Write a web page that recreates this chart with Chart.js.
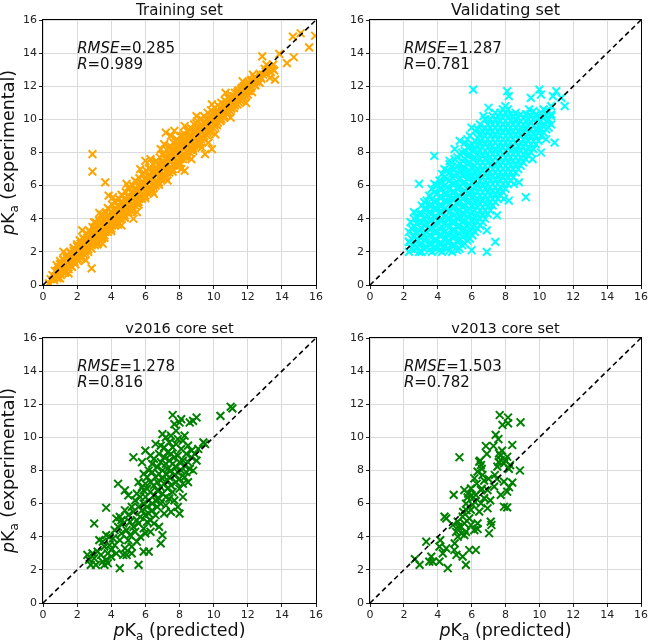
<!DOCTYPE html>
<html><head><meta charset="utf-8">
<script src="https://cdn.jsdelivr.net/npm/chart.js@4"></script>
<style>
html,body{margin:0;padding:0;background:#fff;}
#wrap{position:relative;width:650px;height:643px;overflow:hidden;background:#fff;}
canvas{position:absolute;}
</style></head><body>
<div id="wrap">
<canvas id="c0" width="330" height="305" style="left:0;top:0"></canvas>
<canvas id="c1" width="320" height="305" style="left:330px;top:0"></canvas>
<canvas id="c2" width="330" height="338" style="left:0;top:305px"></canvas>
<canvas id="c3" width="320" height="338" style="left:330px;top:305px"></canvas>
</div>
<script>
const panelTitles = ['Training set', 'Validating set', 'v2016 core set', 'v2013 core set'];
const rmseValues = ['0.285', '1.287', '1.278', '1.503'];
const rValues = ['0.989', '0.781', '0.816', '0.782'];
const tickValues = [0, 2, 4, 6, 8, 10, 12, 14, 16];
const diagonal = [[0, 0], [16, 16]];
const yAxisLabel = ' (experimental)';
const xAxisLabel = ' (predicted)';

const trainingBand = [
[0.45,0.35],[0.55,0.6],[0.65,0.3],[0.7,0.85],[0.8,0.55],[0.9,1.05],[0.95,0.7],[1.05,1.3],[1.1,0.85],[1.2,1.5],[1.25,1.05],[1.3,0.75],[1.4,1.7],[1.45,1.25],[1.5,0.95],[1.6,1.95],[1.65,1.45],[1.7,1.1],[1.8,2.2],[1.85,1.6],[1.9,1.25],[2.0,2.45],[2.0,1.9],[2.05,1.45],[2.15,2.7],[2.2,2.1],[2.25,1.6],[2.35,2.85],[2.4,2.35],[2.45,1.8],[2.55,3.1],[2.6,2.55],[2.65,2.0],[2.7,3.3],[2.8,2.75],[2.85,2.2],[2.9,3.5],[3.0,2.95],[3.05,2.4],[3.1,3.75],[3.2,3.15],[3.25,2.55],[3.3,3.9],[3.4,3.35],[3.45,2.8],[3.5,4.2],[3.55,3.6],[3.6,3.0],[3.7,4.4],[3.75,3.8],[3.8,3.2],[3.85,4.6],[3.95,4.0],[4.0,3.4],[4.05,4.85],[4.15,4.2],[4.2,3.6],[4.25,5.0],[4.35,4.45],[4.4,3.8],[4.45,5.2],[4.55,4.6],[4.6,4.0],[4.65,5.4],[4.75,4.85],[4.8,4.2],[4.85,5.6],[4.95,5.05],[5.0,4.4],[5.05,5.8],[5.15,5.25],[5.2,4.6],[5.25,6.0],[5.35,5.45],[5.4,4.8],[5.45,6.25],[5.55,5.7],[5.6,5.0],[5.65,6.45],[5.75,5.9],[5.8,5.2],[5.85,6.65],[5.95,6.1],[6.0,5.4],[6.05,6.9],[6.15,6.3],[6.2,5.6],[6.25,7.1],[6.35,6.55],[6.4,5.8],[6.45,7.3],[6.55,6.75],[6.6,6.0],[6.65,7.5],[6.75,6.95],[6.8,6.2],[6.85,7.7],[6.95,7.15],[7.0,6.4],[7.05,7.95],[7.15,7.35],[7.2,6.6],[7.25,8.15],[7.35,7.6],[7.4,6.8],[7.45,8.4],[7.55,7.8],[7.6,7.0],[7.65,8.6],[7.75,8.0],[7.8,7.2],[7.85,8.8],[7.95,8.2],[8.0,7.4],[8.05,9.0],[8.15,8.4],[8.2,7.6],[8.25,9.15],[8.35,8.6],[8.4,7.8],[8.45,9.3],[8.55,8.8],[8.6,8.0],[8.65,9.5],[8.75,9.0],[8.8,8.25],[8.85,9.7],[8.95,9.2],[9.0,8.45],[9.05,9.9],[9.15,9.4],[9.2,8.65],[9.25,10.05],[9.35,9.6],[9.4,8.85],[9.45,10.2],[9.55,9.8],[9.6,9.05],[9.65,10.4],[9.75,10.0],[9.8,9.25],[9.85,10.55],[9.95,10.15],[10.0,9.45],[10.05,10.7],[10.15,10.3],[10.2,9.65],[10.25,10.85],[10.35,10.45],[10.4,9.9],[10.45,11.0],[10.55,10.6],[10.6,10.1],[10.65,11.15],[10.75,10.8],[10.8,10.3],[10.85,11.3],[10.95,10.95],[11.0,10.5],[11.05,11.45],[11.15,11.1],[11.2,10.7],[11.25,11.6],[11.35,11.3],[11.4,10.9],[11.45,11.75],[11.55,11.45],[11.6,11.1],[11.65,11.9],[11.75,11.6],[11.8,11.3],[11.85,12.05],[11.95,11.8],[12.0,11.5],[12.1,12.2],[12.2,11.9],[12.25,11.65],[12.35,12.3],[12.45,12.05],[12.6,12.3],[12.75,12.55],[12.9,12.7],[13.05,12.9],[13.2,13.0],[13.35,12.85],[13.45,13.05],[13.55,12.95],
[1.0,1.25],[1.2,0.95],[1.4,1.6],[1.6,1.35],[1.8,2.05],[2.0,1.75],[2.2,2.5],[2.4,2.1],[2.6,2.85],[2.8,2.55],[3.0,3.3],[3.2,2.9],[3.4,3.7],[3.6,3.3],[3.8,4.1],[4.0,3.7],[4.2,4.5],[4.4,4.1],[4.6,4.9],[4.8,4.5],[5.0,5.3],[5.2,4.9],[5.4,5.7],[5.6,5.3],[5.8,6.1],[6.0,5.7],[6.2,6.5],[6.4,6.1],[6.6,6.9],[6.8,6.5],[7.0,7.3],[7.2,6.9],[7.4,7.7],[7.6,7.3],[7.8,8.1],[8.0,7.7],[8.2,8.5],[8.4,8.1],[8.6,8.9],[8.8,8.5],[9.0,9.3],[9.2,8.9],[9.4,9.6],[9.6,9.3],[9.8,10.0],[10.0,9.7],[10.2,10.4],[10.4,10.1],[10.6,10.8],[10.8,10.5],[11.0,11.2],[11.2,10.9],[11.4,11.5],[11.6,11.3],[11.8,11.9],[12.0,11.8],[12.2,12.3],[12.4,12.1]
];
const trainingFill = [
[0.8,1.2],[0.9,0.8],[0.85,0.4],[1.0,1.45],[1.1,1.05],[1.05,0.6],[1.2,1.55],[1.3,1.2],[1.25,0.75],[1.4,1.85],[1.5,1.45],[1.45,1.0],[1.6,2.0],[1.7,1.65],[1.65,1.15],[1.8,2.25],[1.9,1.85],[1.85,1.4],[2.0,2.35],[2.1,2.05],[2.05,1.6],[2.2,2.65],[2.3,2.25],[2.25,1.75],[2.4,2.75],[2.5,2.45],[2.45,2.0],[2.6,3.05],[2.7,2.65],[2.65,2.15],[2.8,3.15],[2.9,2.85],[2.85,2.4],[3.0,3.45],[3.1,3.05],[3.05,2.55],[3.2,3.55],[3.3,3.25],[3.25,2.8],[3.4,3.85],[3.5,3.45],[3.45,2.95],[3.6,3.95],[3.7,3.65],[3.65,3.2],[3.8,4.25],[3.9,3.85],[3.85,3.35],[4.0,4.35],[4.1,4.05],[4.05,3.6],[4.2,4.65],[4.3,4.25],[4.25,3.75],[4.4,4.75],[4.5,4.45],[4.45,4.0],[4.6,5.05],[4.7,4.65],[4.65,4.15],[4.8,5.15],[4.9,4.85],[4.85,4.4],[5.0,5.45],[5.1,5.05],[5.05,4.55],[5.2,5.55],[5.3,5.25],[5.25,4.8],[5.4,5.85],[5.5,5.45],[5.45,4.95],[5.6,5.95],[5.7,5.65],[5.65,5.2],[5.8,6.25],[5.9,5.85],[5.85,5.35],[6.0,6.35],[6.1,6.05],[6.05,5.6],[6.2,6.65],[6.3,6.25],[6.25,5.75],[6.4,6.75],[6.5,6.45],[6.45,6.0],[6.6,7.05],[6.7,6.65],[6.65,6.15],[6.8,7.15],[6.9,6.85],[6.85,6.4],[7.0,7.45],[7.1,7.05],[7.05,6.55],[7.2,7.55],[7.3,7.25],[7.25,6.8],[7.4,7.85],[7.5,7.45],[7.45,6.95],[7.6,7.95],[7.7,7.65],[7.65,7.2],[7.8,8.25],[7.9,7.85],[7.85,7.35],[8.0,8.35],[8.1,8.05],[8.05,7.6],[8.2,8.65],[8.3,8.25],[8.25,7.75],[8.4,8.75],[8.5,8.45],[8.45,8.0],[8.6,9.05],[8.7,8.65],[8.65,8.15],[8.8,9.15],[8.9,8.85],[8.85,8.4],[9.0,9.45],[9.1,9.05],[9.05,8.6],[9.2,9.55],[9.3,9.25],[9.25,8.8],[9.4,9.8],[9.5,9.45],[9.45,9.0],[9.6,9.95],[9.7,9.65],[9.65,9.2],[9.8,10.2],[9.9,9.85],[9.85,9.4],[10.0,10.3],[10.1,10.05],[10.05,9.6],[10.2,10.55],[10.3,10.25],[10.25,9.8],[10.4,10.65],[10.5,10.45],[10.45,10.0],[10.6,10.9],[10.7,10.65],[10.65,10.2],[10.8,11.0],[10.9,10.85],[10.85,10.4],[11.0,11.3],[11.1,11.05],[11.05,10.65],[11.2,11.4],[11.3,11.2],[11.25,10.85],[11.4,11.65],[11.5,11.4],[11.45,11.05],[11.6,11.8],[11.7,11.55],[11.65,11.25],[11.8,12.0],[11.9,11.75],[11.85,11.45],[12.0,12.15],[12.1,11.95],[12.05,11.7],[12.2,12.4],[12.3,12.15],[12.4,12.55],[12.5,12.3],[12.7,12.75],[12.8,12.45],[13.0,13.05],[13.1,12.75],
[3.0,3.8],[3.4,4.25],[3.8,4.65],[4.2,5.05],[4.6,5.45],[5.0,5.9],[5.4,6.3],[5.8,6.7],[6.2,7.05],[6.6,7.45],[7.0,7.85],[7.4,8.3],[7.8,8.65],[8.2,9.0],[8.6,9.35],[9.0,9.75],
[3.2,2.45],[3.6,2.85],[4.0,3.25],[4.4,3.65],[4.8,4.05],[5.2,4.45],[5.6,4.85],[6.0,5.25],[6.4,5.65],[6.8,6.05],[7.2,6.45],[7.6,6.85],[8.0,7.25],[8.4,7.7],[8.8,8.1],[9.2,8.5]
];
const trainingOutliers = [
[1.2,2.0],[2.3,3.3],[3.3,4.35],[4.1,5.3],[4.9,6.1],[5.7,7.0],[6.3,7.6],[6.9,8.2],[7.1,8.5],[7.5,9.0],[7.7,9.3],[8.3,9.6],[9.0,10.2],[9.9,10.9],[1.5,0.7],[2.5,1.5],[3.5,2.5],[4.6,3.6],[5.5,4.4],[6.5,5.5],[7.3,6.3],[8.1,7.0],[8.7,7.6],[9.3,8.3],[10.1,9.1],[11.0,10.1],[11.9,11.0],[12.3,12.7],[12.7,12.2],[13.1,13.3],[13.5,13.3],[10.7,11.6],[9.7,8.6],[8.3,6.9],[9.5,7.9],[9.9,8.2],[2.9,7.9],[2.9,6.85],[3.65,6.2],[3.85,5.4],[2.85,1.0],[12.85,13.8],[13.6,12.4],[14.3,13.4],[14.7,13.75],[14.65,15.0],[15.1,15.2],[15.6,14.35],[13.85,13.95],[13.3,12.5],[11.7,12.3],[15.95,15.05],[0.35,0.1],[1.0,0.4],[5.3,4.0],[6.0,7.5],[7.2,9.2]
];

const validatingCore = [
[2.3,2.0],[2.3,2.6],[2.3,3.2],
[2.6,2.1],[2.6,2.5],[2.6,3.0],[2.6,3.5],[2.6,4.0],
[2.9,2.0],[2.9,2.4],[2.9,2.9],[2.9,3.3],[2.9,3.8],[2.9,4.3],
[3.2,2.2],[3.2,2.7],[3.2,3.1],[3.2,3.6],[3.2,4.0],[3.2,4.6],[3.2,5.0],
[3.5,2.1],[3.5,2.5],[3.5,3.0],[3.5,3.4],[3.5,3.9],[3.5,4.4],[3.5,4.8],[3.5,5.4],
[3.8,2.3],[3.8,2.7],[3.8,3.2],[3.8,3.7],[3.8,4.1],[3.8,4.6],[3.8,5.0],[3.8,5.6],[3.8,6.1],
[4.1,2.1],[4.1,2.5],[4.1,3.0],[4.1,3.4],[4.1,3.9],[4.1,4.4],[4.1,4.8],[4.1,5.3],[4.1,5.8],[4.1,6.3],
[4.4,2.3],[4.4,2.8],[4.4,3.2],[4.4,3.7],[4.4,4.1],[4.4,4.6],[4.4,5.1],[4.4,5.5],[4.4,6.0],[4.4,6.5],[4.4,7.0],
[4.7,2.1],[4.7,2.6],[4.7,3.0],[4.7,3.5],[4.7,4.0],[4.7,4.4],[4.7,4.9],[4.7,5.3],[4.7,5.8],[4.7,6.3],[4.7,6.8],[4.7,7.3],
[5.0,2.4],[5.0,2.9],[5.0,3.3],[5.0,3.8],[5.0,4.2],[5.0,4.7],[5.0,5.2],[5.0,5.6],[5.0,6.1],[5.0,6.6],[5.0,7.0],[5.0,7.6],
[5.3,2.2],[5.3,2.7],[5.3,3.1],[5.3,3.6],[5.3,4.1],[5.3,4.5],[5.3,5.0],[5.3,5.4],[5.3,5.9],[5.3,6.4],[5.3,6.9],[5.3,7.3],[5.3,7.9],[5.3,8.7],
[5.6,2.5],[5.6,3.0],[5.6,3.4],[5.6,3.9],[5.6,4.3],[5.6,4.8],[5.6,5.3],[5.6,5.7],[5.6,6.2],[5.6,6.7],[5.6,7.1],[5.6,7.6],[5.6,8.1],[5.6,8.6],
[5.9,2.8],[5.9,3.3],[5.9,3.7],[5.9,4.2],[5.9,4.6],[5.9,5.1],[5.9,5.5],[5.9,6.0],[5.9,6.5],[5.9,6.9],[5.9,7.4],[5.9,7.9],[5.9,8.4],[5.9,9.0],
[6.2,3.2],[6.2,3.6],[6.2,4.1],[6.2,4.5],[6.2,5.0],[6.2,5.4],[6.2,5.9],[6.2,6.3],[6.2,6.8],[6.2,7.2],[6.2,7.7],[6.2,8.2],[6.2,8.7],[6.2,9.3],
[6.5,3.6],[6.5,4.0],[6.5,4.5],[6.5,4.9],[6.5,5.4],[6.5,5.8],[6.5,6.3],[6.5,6.7],[6.5,7.2],[6.5,7.6],[6.5,8.1],[6.5,8.6],[6.5,9.1],[6.5,9.7],
[6.8,4.0],[6.8,4.5],[6.8,4.9],[6.8,5.4],[6.8,5.8],[6.8,6.3],[6.8,6.7],[6.8,7.2],[6.8,7.6],[6.8,8.1],[6.8,8.5],[6.8,9.0],[6.8,9.5],[6.8,10.0],
[7.1,4.5],[7.1,5.0],[7.1,5.4],[7.1,5.9],[7.1,6.3],[7.1,6.8],[7.1,7.2],[7.1,7.7],[7.1,8.1],[7.1,8.6],[7.1,9.0],[7.1,9.5],[7.1,10.0],
[7.4,5.0],[7.4,5.5],[7.4,5.9],[7.4,6.4],[7.4,6.8],[7.4,7.3],[7.4,7.7],[7.4,8.2],[7.4,8.6],[7.4,9.1],[7.4,9.5],[7.4,10.0],[7.4,10.4],
[7.7,5.4],[7.7,5.9],[7.7,6.3],[7.7,6.8],[7.7,7.2],[7.7,7.7],[7.7,8.1],[7.7,8.6],[7.7,9.0],[7.7,9.5],[7.7,9.9],[7.7,10.4],
[8.0,5.8],[8.0,6.3],[8.0,6.8],[8.0,7.2],[8.0,7.7],[8.0,8.1],[8.0,8.6],[8.0,9.0],[8.0,9.5],[8.0,9.9],[8.0,10.4],[8.0,10.8],
[8.3,6.3],[8.3,6.8],[8.3,7.2],[8.3,7.7],[8.3,8.1],[8.3,8.6],[8.3,9.0],[8.3,9.5],[8.3,9.9],[8.3,10.3],
[8.6,6.8],[8.6,7.3],[8.6,7.7],[8.6,8.2],[8.6,8.6],[8.6,9.1],[8.6,9.5],[8.6,10.0],[8.6,10.4],
[8.9,7.2],[8.9,7.7],[8.9,8.1],[8.9,8.6],[8.9,9.0],[8.9,9.5],[8.9,9.9],[8.9,10.3],
[9.2,7.6],[9.2,8.1],[9.2,8.5],[9.2,9.0],[9.2,9.4],[9.2,9.9],[9.2,10.3],
[9.5,8.0],[9.5,8.5],[9.5,8.9],[9.5,9.4],[9.5,9.8],[9.5,10.2],
[9.8,8.5],[9.8,9.0],[9.8,9.4],[9.8,9.8],[9.8,10.3],
[10.1,9.0],[10.1,9.4],[10.1,9.9],[10.1,10.4],
[10.4,9.4],[10.4,9.9],[10.4,10.3],
[10.7,9.7],[10.7,10.2],[10.7,10.8]
];
const validatingFill = [
[2.45,2.2],[2.45,2.8],[2.45,3.4],
[2.75,2.3],[2.75,2.7],[2.75,3.2],[2.75,3.7],[2.75,4.1],
[3.05,2.0],[3.05,2.5],[3.05,2.9],[3.05,3.4],[3.05,3.8],[3.05,4.3],[3.05,4.8],
[3.35,2.3],[3.35,2.8],[3.35,3.2],[3.35,3.7],[3.35,4.2],[3.35,4.6],[3.35,5.1],
[3.65,2.0],[3.65,2.5],[3.65,2.9],[3.65,3.4],[3.65,3.9],[3.65,4.3],[3.65,4.8],[3.65,5.2],[3.65,5.8],
[3.95,2.2],[3.95,2.7],[3.95,3.2],[3.95,3.6],[3.95,4.1],[3.95,4.6],[3.95,5.1],[3.95,5.5],[3.95,6.0],
[4.25,2.0],[4.25,2.5],[4.25,3.0],[4.25,3.5],[4.25,3.9],[4.25,4.4],[4.25,4.8],[4.25,5.3],[4.25,5.8],[4.25,6.2],[4.25,6.7],
[4.55,2.2],[4.55,2.6],[4.55,3.1],[4.55,3.6],[4.55,4.0],[4.55,4.5],[4.55,5.0],[4.55,5.5],[4.55,5.9],[4.55,6.4],[4.55,6.9],
[4.85,2.0],[4.85,2.4],[4.85,2.9],[4.85,3.3],[4.85,3.8],[4.85,4.3],[4.85,4.7],[4.85,5.2],[4.85,5.6],[4.85,6.1],[4.85,6.5],[4.85,7.1],
[5.15,2.1],[5.15,2.6],[5.15,3.0],[5.15,3.5],[5.15,4.0],[5.15,4.4],[5.15,4.9],[5.15,5.3],[5.15,5.8],[5.15,6.2],[5.15,6.7],[5.15,7.2],[5.15,7.7],
[5.45,2.4],[5.45,2.9],[5.45,3.3],[5.45,3.8],[5.45,4.3],[5.45,4.7],[5.45,5.2],[5.45,5.6],[5.45,6.1],[5.45,6.6],[5.45,7.0],[5.45,7.5],[5.45,8.0],
[5.75,2.7],[5.75,3.1],[5.75,3.6],[5.75,4.1],[5.75,4.5],[5.75,5.0],[5.75,5.5],[5.75,5.9],[5.75,6.4],[5.75,6.8],[5.75,7.3],[5.75,7.8],[5.75,8.3],[5.75,8.8],
[6.05,3.0],[6.05,3.5],[6.05,3.9],[6.05,4.4],[6.05,4.8],[6.05,5.3],[6.05,5.7],[6.05,6.2],[6.05,6.6],[6.05,7.1],[6.05,7.6],[6.05,8.1],[6.05,8.5],
[6.35,3.4],[6.35,3.8],[6.35,4.3],[6.35,4.7],[6.35,5.2],[6.35,5.6],[6.35,6.1],[6.35,6.5],[6.35,7.0],[6.35,7.4],[6.35,7.9],[6.35,8.4],[6.35,8.9],[6.35,9.4],
[6.65,3.8],[6.65,4.2],[6.65,4.7],[6.65,5.1],[6.65,5.6],[6.65,6.0],[6.65,6.5],[6.65,6.9],[6.65,7.4],[6.65,7.8],[6.65,8.3],[6.65,8.8],[6.65,9.3],
[6.95,4.3],[6.95,4.7],[6.95,5.2],[6.95,5.6],[6.95,6.1],[6.95,6.5],[6.95,7.0],[6.95,7.4],[6.95,7.9],[6.95,8.3],[6.95,8.8],[6.95,9.2],[6.95,9.7],
[7.25,4.8],[7.25,5.2],[7.25,5.7],[7.25,6.1],[7.25,6.6],[7.25,7.0],[7.25,7.5],[7.25,7.9],[7.25,8.4],[7.25,8.8],[7.25,9.3],[7.25,9.7],[7.25,10.2],
[7.55,5.2],[7.55,5.7],[7.55,6.1],[7.55,6.6],[7.55,7.0],[7.55,7.5],[7.55,7.9],[7.55,8.4],[7.55,8.8],[7.55,9.3],[7.55,9.7],[7.55,10.2],
[7.85,5.6],[7.85,6.1],[7.85,6.5],[7.85,7.0],[7.85,7.4],[7.85,7.9],[7.85,8.3],[7.85,8.8],[7.85,9.2],[7.85,9.7],[7.85,10.1],[7.85,10.6],
[8.15,6.1],[8.15,6.5],[8.15,7.0],[8.15,7.4],[8.15,7.9],[8.15,8.3],[8.15,8.8],[8.15,9.2],[8.15,9.7],[8.15,10.1],[8.15,10.6],
[8.45,6.5],[8.45,7.0],[8.45,7.5],[8.45,7.9],[8.45,8.4],[8.45,8.8],[8.45,9.3],[8.45,9.7],[8.45,10.2],
[8.75,7.0],[8.75,7.5],[8.75,7.9],[8.75,8.4],[8.75,8.8],[8.75,9.3],[8.75,9.7],[8.75,10.1],
[9.05,7.4],[9.05,7.9],[9.05,8.3],[9.05,8.8],[9.05,9.2],[9.05,9.7],[9.05,10.1],
[9.35,7.8],[9.35,8.3],[9.35,8.7],[9.35,9.2],[9.35,9.6],[9.35,10.0],
[9.65,8.2],[9.65,8.7],[9.65,9.1],[9.65,9.6],[9.65,10.0],[9.65,10.5],
[9.95,8.7],[9.95,9.2],[9.95,9.6],[9.95,10.1],
[10.25,9.2],[10.25,9.6],[10.25,10.1],[10.25,10.6],
[10.55,9.5],[10.55,10.0],[10.55,10.5]
];
const validatingOutliers = [
[6.1,11.8],[8.1,11.7],[8.2,11.4],[10.0,11.8],[10.1,11.5],[11.0,11.7],[10.8,11.4],[11.3,11.3],[11.5,10.8],[10.9,8.6],[10.4,8.8],[10.2,10.1],[10.7,10.3],[9.2,5.3],[8.2,5.1],[7.9,5.2],[8.8,6.2],[8.5,6.1],[7.4,2.6],[6.9,2.0],[6.0,2.1],[6.9,3.3],[7.5,4.2],[2.9,6.1],[3.8,7.8],[2.4,3.8],[2.6,4.4],[2.3,2.6],[7.0,10.7],[9.5,11.3],[10.1,8.0],[9.6,7.6],[5.0,8.2],[4.7,7.5],[6.7,10.2],[6.0,9.5],[9.9,9.4],[9.4,10.6]
];

const coreSet2016 = [
[2.6,2.9],[2.7,2.6],[2.8,2.3],[2.9,3.0],[3.0,2.7],[3.0,4.8],[3.1,2.3],[3.2,3.1],[3.3,3.8],[3.4,2.9],[3.5,3.7],[3.5,2.5],[3.6,2.3],[3.6,3.4],[3.7,2.6],[3.7,4.1],[3.7,5.75],[3.8,2.4],[3.8,3.0],[3.9,3.5],[3.9,4.0],[4.0,2.8],[4.0,3.2],[4.1,3.9],[4.2,3.5],[4.2,4.4],[4.3,3.0],[4.3,5.1],[4.4,4.6],[4.4,7.2],[4.5,2.1],[4.5,3.8],[4.5,5.2],[4.6,4.2],[4.6,5.0],[4.7,2.9],[4.7,4.8],[4.8,3.3],[4.8,5.6],[4.8,6.8],[4.9,4.4],[4.9,2.9],[5.0,6.5],[5.0,5.3],[5.0,3.8],[5.1,4.9],[5.1,4.1],[5.2,5.8],[5.2,3.4],[5.2,3.0],[5.3,8.8],[5.3,4.6],[5.3,5.5],[5.4,6.2],[5.4,4.3],[5.5,5.0],[5.5,3.7],[5.5,6.6],[5.6,5.8],[5.6,2.3],[5.6,4.8],[5.7,6.4],[5.7,5.2],[5.7,4.0],[5.8,7.0],[5.8,5.6],[5.8,8.5],[5.9,6.0],[5.9,4.5],[5.9,3.1],[5.9,6.8],[6.0,5.3],[6.0,7.2],[6.0,6.4],[6.0,4.2],[6.1,5.8],[6.1,7.6],[6.1,6.9],[6.1,4.9],[6.2,6.2],[6.2,5.4],[6.2,8.0],[6.2,3.1],[6.3,6.7],[6.3,7.3],[6.3,5.0],[6.3,4.3],[6.4,6.0],[6.4,7.9],[6.4,8.4],[6.4,5.6],[6.5,6.5],[6.5,7.1],[6.5,4.8],[6.5,8.7],[6.6,6.2],[6.6,7.6],[6.6,5.3],[6.7,6.8],[6.7,8.2],[6.7,7.3],[6.7,5.8],[6.8,6.3],[6.8,9.0],[6.8,7.8],[6.8,4.6],[6.9,7.0],[6.9,8.5],[6.9,6.0],[6.9,3.6],[7.0,7.5],[7.0,8.0],[7.0,6.6],[7.0,10.2],[7.0,4.1],[7.1,8.8],[7.1,7.2],[7.1,5.4],[7.1,9.4],[7.2,7.8],[7.2,6.4],[7.2,8.4],[7.2,5.9],[7.3,9.1],[7.3,7.4],[7.3,8.1],[7.3,6.9],[7.4,9.7],[7.4,8.6],[7.4,7.6],[7.4,6.3],[7.5,10.1],[7.5,9.0],[7.5,8.0],[7.5,7.1],[7.5,5.5],[7.6,9.4],[7.6,8.4],[7.6,6.7],[7.6,11.35],[7.7,8.8],[7.7,7.7],[7.7,10.8],[7.7,6.2],[7.8,9.6],[7.8,8.2],[7.8,7.3],[7.8,10.4],[7.9,8.9],[7.9,7.9],[7.9,5.8],[7.9,9.9],[8.0,8.5],[8.0,7.5],[8.0,6.9],[8.0,10.9],[8.0,5.4],[8.1,9.3],[8.1,8.0],[8.1,11.1],[8.2,8.6],[8.2,7.2],[8.2,9.8],[8.2,6.4],[8.3,10.1],[8.3,8.3],[8.3,7.6],[8.4,9.0],[8.4,7.9],[8.5,8.5],[8.5,9.5],[8.5,7.3],[8.6,10.9],[8.6,8.1],[8.7,9.2],[8.7,8.8],[8.8,8.0],[8.8,11.0],[8.9,9.0],[9.0,11.2],[9.0,8.6],[9.1,9.3],[9.4,9.7],[9.5,9.6],[10.4,11.3],[11.0,11.85],[11.1,11.75],[6.6,9.6],[6.3,8.9],[5.6,7.3],[5.9,7.8],[6.0,9.2],[6.9,9.5],[7.2,10.0]
];

const coreSet2013 = [
[7.66,11.35],[8.15,11.2],[7.82,10.75],[8.15,10.85],[8.89,10.91],[7.42,10.15],[7.58,9.9],[6.84,9.48],[7.29,9.48],[8.4,9.54],[5.28,8.8],[6.45,8.53],[6.55,8.33],[7.62,9.03],[7.72,8.63],[7.91,8.43],[7.52,8.23],[8.1,8.83],[8.85,8.0],[8.27,8.32],[6.35,7.93],[6.64,7.73],[7.37,7.73],[6.16,7.53],[6.74,7.39],[7.91,7.33],[8.4,7.27],[7.33,7.03],[8.21,6.99],[5.57,6.82],[5.96,6.92],[6.55,6.82],[6.94,6.82],[8.1,6.72],[4.94,6.53],[5.76,6.38],[6.25,6.53],[6.74,6.33],[7.72,6.53],[5.67,6.0],[6.06,5.92],[6.55,6.02],[7.91,5.81],[8.1,5.77],[6.94,5.72],[5.96,5.62],[4.4,5.21],[4.5,5.11],[5.47,5.21],[6.45,5.52],[5.86,5.11],[5.18,4.91],[5.57,4.81],[7.13,4.91],[7.17,4.71],[4.89,4.71],[5.37,4.6],[5.96,4.71],[6.35,4.81],[5.08,4.3],[5.67,4.3],[6.16,4.4],[6.35,4.47],[7.03,4.21],[5.18,4.0],[5.57,4.1],[4.15,3.8],[3.32,3.7],[4.1,3.4],[4.5,3.3],[4.98,3.2],[5.1,2.9],[5.47,2.8],[5.86,3.2],[6.25,3.2],[3.62,2.8],[3.71,2.5],[4.1,2.5],[3.5,2.5],[2.65,2.65],[2.93,2.3],[4.59,2.1],[5.66,2.3],
[7.7,8.9],[7.8,9.2],[7.6,8.5],[8.0,8.6],[6.5,8.6],[6.6,8.1],[6.3,7.2],[6.0,6.5],[6.2,6.1],[5.8,6.6],[5.5,5.5],[5.7,5.6],[5.2,4.6],[5.4,4.2],[6.6,6.9],[7.1,6.2],[7.0,7.5],[7.5,7.5],[6.9,9.0],[8.2,8.1],[5.0,3.6],[4.3,3.0]
];

const seriesData = [
  trainingBand.concat(trainingFill, trainingOutliers),
  validatingCore.concat(validatingFill, validatingOutliers),
  coreSet2016,
  coreSet2013
];
const seriesColors = ['#FFA500', '#00FFFF', '#008000', '#008000'];

const FONT = '"DejaVu Sans", "Liberation Sans", sans-serif';
const panelLayout = [
  {id:'c0', pad:{left:0, top:20, right:14, bottom:0}, yW:43, xH:20, yTitle:true, xTitle:false, titleSize:15},
  {id:'c1', pad:{left:0, top:20, right:7, bottom:0}, yW:40, xH:20, yTitle:false, xTitle:false, titleSize:16},
  {id:'c2', pad:{left:0, top:33, right:14, bottom:0}, yW:43, xH:40, yTitle:true, xTitle:true, titleSize:14.5},
  {id:'c3', pad:{left:0, top:33, right:7, bottom:0}, yW:40, xH:40, yTitle:false, xTitle:true, titleSize:14.5}
];

function segFont(s, size) {
  return (s.it ? 'italic ' : '') + (s.sub ? size * 0.68 : size) + 'px ' + FONT;
}
function drawRich(ctx, segs, size, x, baseline, center) {
  const widths = segs.map(s => { ctx.font = segFont(s, size); return ctx.measureText(s.t).width; });
  const total = widths.reduce((a, b) => a + b, 0);
  let cx = center ? x - total / 2 : x;
  segs.forEach((s, i) => {
    ctx.font = segFont(s, size);
    ctx.fillText(s.t, cx, baseline + (s.sub ? size * 0.24 : 0));
    cx += widths[i];
  });
}

const decor = {
  id: 'decor',
  afterDatasetsDraw(chart, args, o) {
    const {ctx, chartArea: a, scales: {x, y}} = chart;
    ctx.save();
    ctx.strokeStyle = '#000';
    ctx.lineWidth = 1;
    ctx.strokeRect(a.left - 0.5, a.top - 0.5, a.right - a.left + 1, a.bottom - a.top + 1);
    ctx.fillStyle = '#111';
    ctx.textBaseline = 'alphabetic';
    ctx.font = o.titleSize + 'px ' + FONT;
    ctx.textAlign = 'center';
    ctx.fillText(o.title, (a.left + a.right) / 2, a.top - 5);
    ctx.textAlign = 'left';
    const tx = x.getPixelForValue(2);
    const ty = y.getPixelForValue(14);
    drawRich(ctx, [{t:'RMSE', it:true}, {t:'=' + o.rmse}], 15, tx, ty, false);
    drawRich(ctx, [{t:'R', it:true}, {t:'=' + o.r}], 15, tx, ty + 15.5, false);
    if (o.yTitle) {
      ctx.save();
      ctx.translate(14, (a.top + a.bottom) / 2);
      ctx.rotate(-Math.PI / 2);
      drawRich(ctx, [{t:'p', it:true}, {t:'K'}, {t:'a', sub:true}, {t:yAxisLabel}], 17.5, 0, 0, true);
      ctx.restore();
    }
    if (o.xTitle) {
      drawRich(ctx, [{t:'p', it:true}, {t:'K'}, {t:'a', sub:true}, {t:xAxisLabel}], 17.5, (a.left + a.right) / 2, a.bottom + 33, true);
    }
    ctx.restore();
  }
};

panelLayout.forEach((p, i) => {
  const axis = (isX) => ({
    type: 'linear', min: 0, max: 16,
    afterBuildTicks: s => { s.ticks = tickValues.map(v => ({value: v})); },
    afterFit: s => { if (isX) s.height = p.xH; else s.width = p.yW; },
    ticks: {font: {size: 11, family: FONT}, color: '#222', padding: 2, autoSkip: false, maxRotation: 0, callback: v => String(v)},
    grid: {color: '#dadada', lineWidth: 1, tickColor: '#222', tickLength: 4, drawTicks: true},
    border: {display: false}
  });
  new Chart(document.getElementById(p.id), {
    type: 'scatter',
    data: {
      datasets: [
        {data: diagonal.map(d => ({x: d[0], y: d[1]})), showLine: true, borderColor: '#000', borderWidth: 1.6, borderDash: [5, 3.5], pointRadius: 0, order: 0},
        {data: seriesData[i].map(d => ({x: d[0], y: d[1]})), pointStyle: 'crossRot', pointRadius: 5.5, borderWidth: 2, borderColor: seriesColors[i], backgroundColor: seriesColors[i], order: 1}
      ]
    },
    options: {
      responsive: false, animation: false, events: [],
      layout: {padding: p.pad},
      plugins: {
        legend: {display: false}, tooltip: {enabled: false}, title: {display: false},
        decor: {title: panelTitles[i], rmse: rmseValues[i], r: rValues[i], yTitle: p.yTitle, xTitle: p.xTitle, titleSize: p.titleSize}
      },
      scales: {x: axis(true), y: axis(false)}
    },
    plugins: [decor]
  });
});
</script>
</body></html>
